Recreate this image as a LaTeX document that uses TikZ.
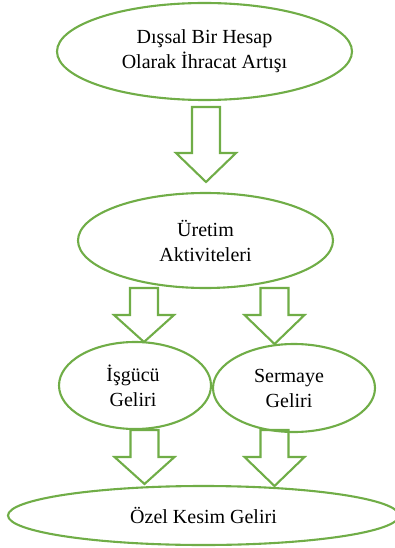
\documentclass[tikz,border=0pt]{standalone}
\usepackage{fontspec}
\setmainfont{Liberation Serif}
\usetikzlibrary{shapes.geometric}
\definecolor{oliveg}{HTML}{70AD47}
\tikzset{
  oval/.style={ellipse, draw=oliveg, line width=2.1pt, inner sep=0pt, align=center,
    font=\fontsize{20}{25}\selectfont},
  blockarrow/.style={draw=oliveg, line width=2.1pt, fill=white, line join=miter}
}
\newcommand\barrow[4]{%
  \draw[blockarrow] ({#1-14},#2) -- ({#1+14},#2) -- ({#1+14},#3) -- ({#1+30},#3)
    -- (#1,#4) -- ({#1-30},#3) -- ({#1-14},#3) -- cycle;}
\begin{document}
\begin{tikzpicture}[x=1pt,y=-1pt]
\useasboundingbox (0,0) rectangle (394,548);
% block arrows
\barrow{206}{107}{153}{182}
\barrow{144}{288}{315}{342}
\barrow{274.5}{288}{315}{344}
\barrow{144.5}{430}{457}{484}
\barrow{274.5}{430}{457}{486}
% ellipses
\node[oval, minimum width=295pt, minimum height=97pt] (ext) at (204.5,51.5)
  {Dışsal Bir Hesap\\Olarak İhracat Artışı};
\node[oval, minimum width=255pt, minimum height=95pt] (uret) at (205.5,240.5)
  {Üretim\\Aktiviteleri};
\node[oval, minimum width=152pt, minimum height=87pt] (isg) at (135,385.5)
  {İşgücü\hspace*{4pt}\\Geliri\hspace*{4pt}};
\node[oval, minimum width=162pt, minimum height=88pt] (serm) at (294,388)
  {Sermaye\hspace*{10pt}\\Geliri\hspace*{10pt}};
\node[oval, minimum width=391pt, minimum height=59pt] (ozel) at (203.5,515.5)
  {Özel Kesim Geliri};
\end{tikzpicture}
\end{document}
